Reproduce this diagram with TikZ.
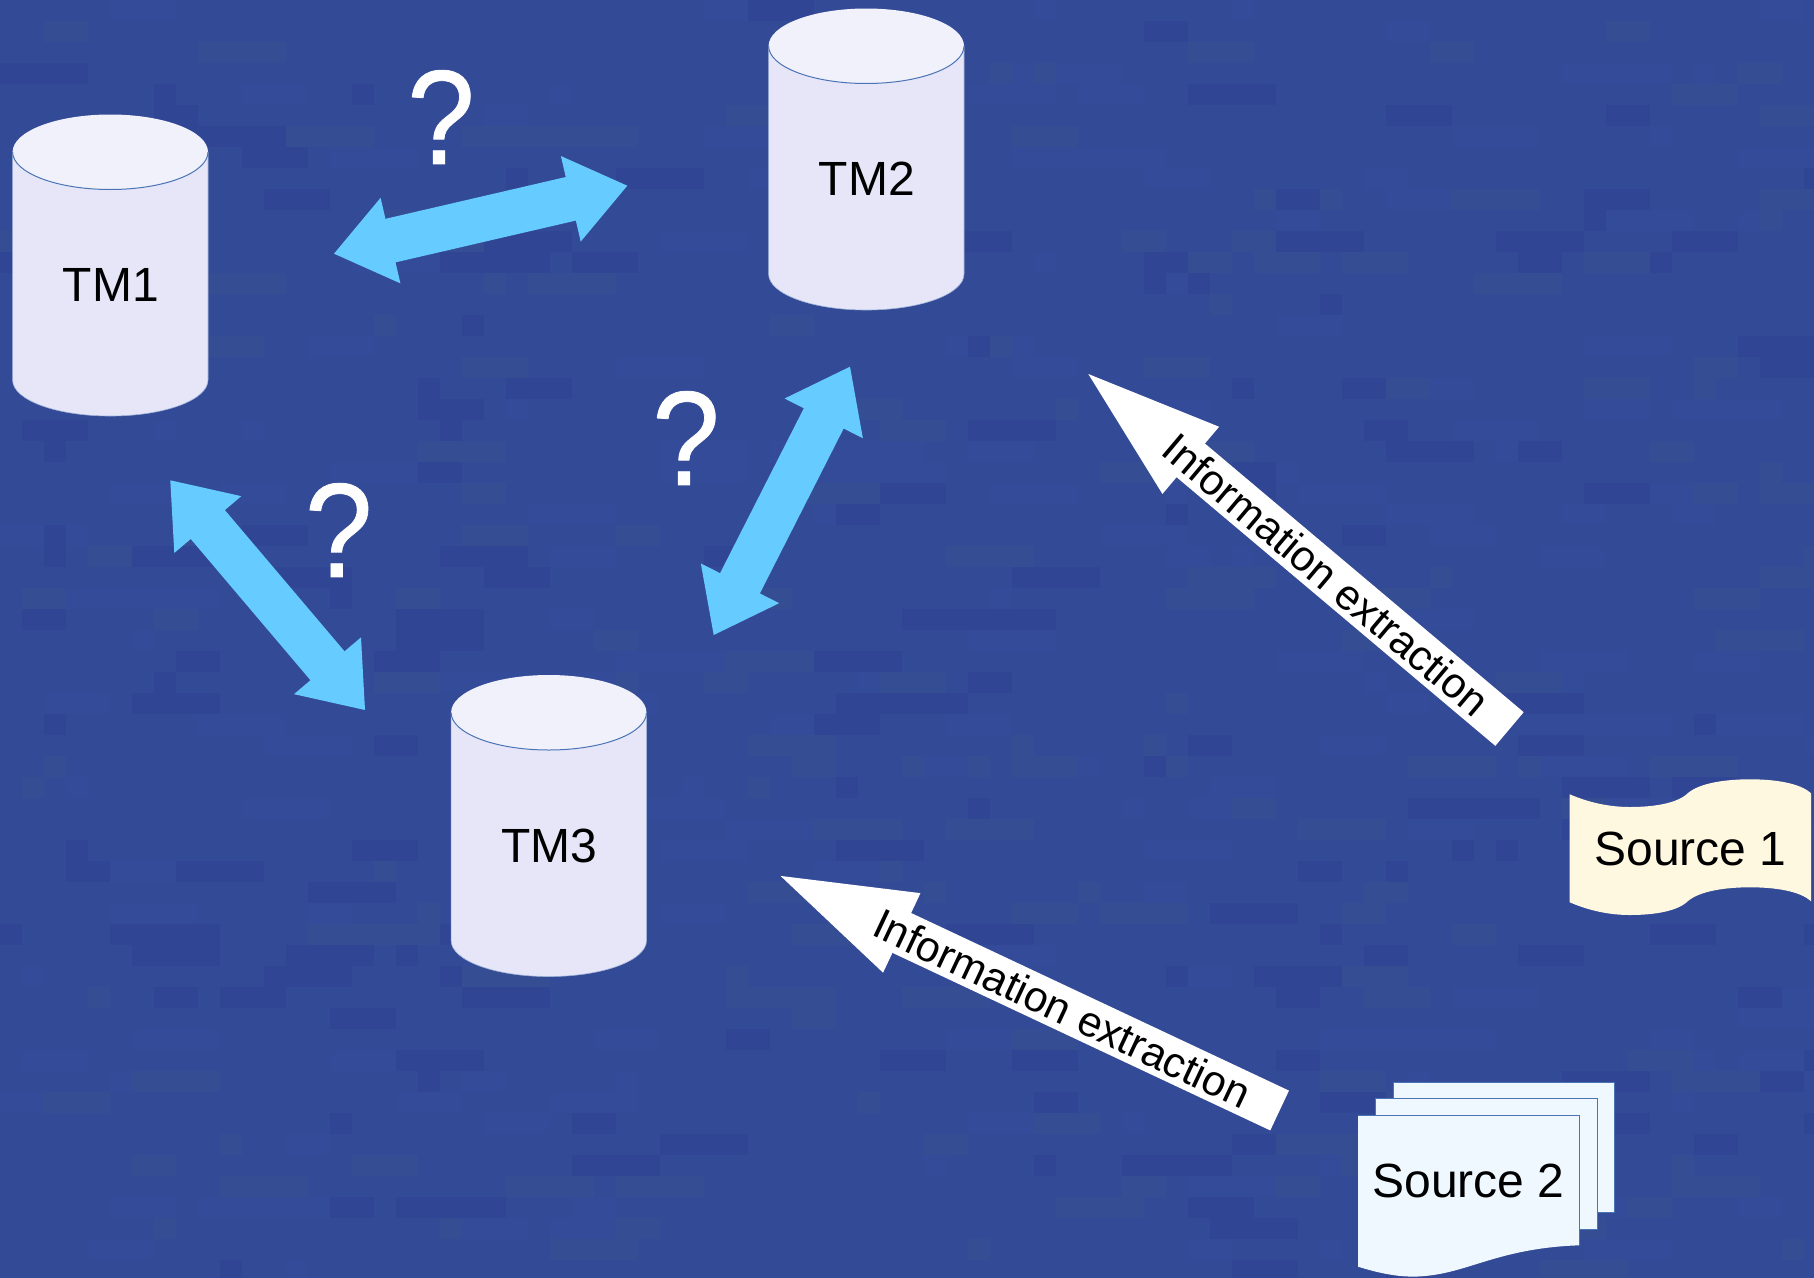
\documentclass[tikz,border=0pt]{standalone}
\usepackage{fontspec}
\setmainfont{Liberation Sans}
\newfontfamily\qfont[FakeBold=0.6]{Liberation Sans}
\usetikzlibrary{arrows.meta}
\definecolor{bgbase}{HTML}{334A96}
\definecolor{bgdark}{HTML}{304593}
\definecolor{bggrey}{HTML}{354D92}
\definecolor{bglight}{HTML}{344B9A}
\definecolor{cylbody}{HTML}{E6E6F8}
\definecolor{cyltop}{HTML}{F1F1FC}
\definecolor{cylline}{HTML}{4A74B4}
\definecolor{blockblue}{HTML}{66CCFF}
\definecolor{srcone}{HTML}{FFF8E0}
\definecolor{srctwo}{HTML}{EFF7FF}
\tikzset{
  px/.style={x=1pt,y=-1pt},
  bodytext/.style={font=\fontsize{48}{58}\selectfont,text=black,inner sep=0pt},
  qmark/.style={font=\qfont\fontsize{126}{150}\selectfont,text=white,inner sep=0pt},
  linkarrow/.style={draw=blockblue,line width=44.7pt,
    {Triangle[length=58pt,width=87.5pt,line width=1.5pt]}-{Triangle[length=58pt,width=87.5pt,line width=1.5pt]}},
  extractarrow/.style={draw=white,line width=44pt,-{Triangle[length=134pt,width=87.5pt,line width=1.5pt]}},
  extracttext/.style={font=\fontsize{42.7}{50}\selectfont,text=black,inner sep=0pt,sloped},
  sheet/.style={fill=srctwo,draw=cylline,line width=1pt},
  pics/tmcyl/.style={code={
    \path[fill=cylbody,draw=cylline!45!cylbody,line width=.6pt]
      (-97.7,0) -- (-97.7,228)
      .. controls (-97.7,248) and (-54,264) .. (0,264)
      .. controls (54,264) and (97.7,248) .. (97.7,228)
      -- (97.7,0) -- cycle;
    \path[fill=cyltop]
      (-97.7,0) .. controls (-97.7,-20.7) and (-54,-37.5) .. (0,-37.5)
      .. controls (54,-37.5) and (97.7,-20.7) .. (97.7,0)
      .. controls (97.7,20.7) and (54,37.5) .. (0,37.5)
      .. controls (-54,37.5) and (-97.7,20.7) .. (-97.7,0) -- cycle;
    \draw[cylline,line width=1pt]
      (97.7,0) .. controls (97.7,20.7) and (54,37.5) .. (0,37.5)
      .. controls (-54,37.5) and (-97.7,20.7) .. (-97.7,0);
    \node[bodytext] (-label) at (0.5,133) {#1};
  }}
}
\begin{document}
\begin{tikzpicture}[px]
\useasboundingbox (0,0) rectangle (1814,1277);
% mottled background
\fill[bgbase] (-5,-5) rectangle (1819,1282);
\begin{scope}
\clip (-5,-5) rectangle (1819,1282);
\pgfmathsetseed{4711}
\foreach \i in {1,...,600}{
  \pgfmathrandominteger{\cx}{0}{82}
  \pgfmathrandominteger{\cy}{0}{60}
  \pgfmathrandominteger{\cw}{1}{4}
  \pgfmathrandominteger{\ct}{1}{3}
  \ifcase\ct\or\def\cc{bgdark}\or\def\cc{bggrey}\or\def\cc{bglight}\fi
  \fill[\cc] ({\cx*22},{\cy*21}) rectangle ({(\cx+\cw)*22},{(\cy+1)*21});
}
\end{scope}
% cylinders
\pic (tm1) at (110.3,152) {tmcyl=TM1};
\pic (tm2) at (866.3,46) {tmcyl=TM2};
\pic (tm3) at (548.8,712.5) {tmcyl=TM3};
% link arrows
\coordinate (l1a) at (334,253.7);
\coordinate (l1b) at (627.3,185.7);
\coordinate (l2a) at (170.3,480.3);
\coordinate (l2b) at (365,710);
\coordinate (l3a) at (850,366.7);
\coordinate (l3b) at (713.7,635);
\draw[linkarrow] (l1a) -- (l1b);
\draw[linkarrow] (l2a) -- (l2b);
\draw[linkarrow] (l3a) -- (l3b);
% question marks
\node[qmark] (q1) at (441,117) {\scalebox{.965}[1.065]{?}};
\node[qmark] (q2) at (338.7,530) {\scalebox{.965}[1.065]{?}};
\node[qmark] (q3) at (686,438) {\scalebox{.965}[1.065]{?}};
% source 1
\path[fill=srcone]
  (1569.7,794.3) .. controls (1590,803) and (1610,807) .. (1630,807)
  .. controls (1655,807) and (1678,803) .. (1688,793)
  .. controls (1700,783) and (1725,779.3) .. (1750,779.3)
  .. controls (1775,779.3) and (1800,783) .. (1811,793.3)
  -- (1811,901.3)
  .. controls (1800,891) and (1775,887.3) .. (1750,887.3)
  .. controls (1725,887.3) and (1700,891) .. (1688,901)
  .. controls (1678,911) and (1655,915) .. (1630,915)
  .. controls (1610,915) and (1590,911) .. (1569.7,902.3) -- cycle;
\node[bodytext] (src1) at (1690.6,848.5) {Source 1};
% source 2
\path[sheet] (1393.7,1082.3) rectangle (1614.3,1212.7);
\path[sheet] (1375.7,1098.7) rectangle (1597,1229);
\path[sheet,draw=none] (1358,1115) -- (1579.3,1115) -- (1579.3,1245.3)
  .. controls (1500,1248) and (1470,1272) .. (1425,1276)
  .. controls (1405,1278) and (1385,1275) .. (1358,1266.7) -- cycle;
\draw[cylline,line width=1pt] (1358,1115) -- (1579.3,1115) -- (1579.3,1245.3);
\node[bodytext] (src2) at (1468.6,1181) {Source 2};
% extraction arrows
\coordinate (e1a) at (1509.5,729);
\coordinate (e1b) at (1088.3,374);
\coordinate (e2a) at (1279.6,1110.5);
\coordinate (e2b) at (780.5,875.9);
\draw[extractarrow] (e1a) -- node[extracttext,pos=.435] (e1t) {Information extraction} (e1b);
\draw[extractarrow] (e2a) -- node[extracttext,pos=.4354] (e2t) {Information extraction} (e2b);
\end{tikzpicture}
\end{document}
